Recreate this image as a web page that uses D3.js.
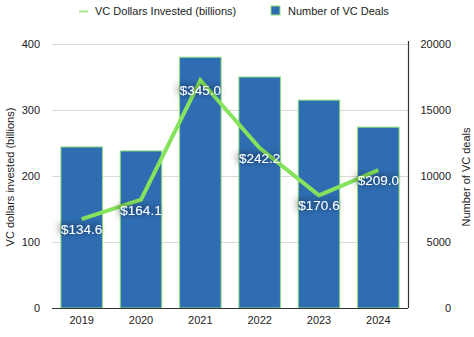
<!DOCTYPE html>
<html>
<head>
<meta charset="utf-8">
<script src="https://cdn.jsdelivr.net/npm/d3@7"></script>
<style>
  html, body { margin: 0; padding: 0; background: #fff; }
  svg { display: block; font-family: "Liberation Sans", Arial, Helvetica, sans-serif; }
</style>
</head>
<body>
<svg id="chart" width="474" height="337"></svg>
<script>
// Yearly US venture capital activity
const years = ["2019", "2020", "2021", "2022", "2023", "2024"];
const dealCounts = [12200, 11900, 19000, 17500, 15750, 13700];
const dollarsInvested = [134.6, 164.1, 345.0, 242.2, 170.6, 209.0];
const leftTicks = [0, 100, 200, 300, 400];
const rightTicks = [0, 5000, 10000, 15000, 20000];

const svg = d3.select("#chart");
const plot = { left: 52, right: 408, top: 44, bottom: 308 };

const x = d3.scaleBand().domain(years).range([plot.left, plot.right]).paddingInner(0.3).paddingOuter(0.15);
const yLeft = d3.scaleLinear().domain([0, 400]).range([plot.bottom, plot.top]);
const yRight = d3.scaleLinear().domain([0, 20000]).range([plot.bottom, plot.top]);

// Soft dark halo behind the value labels
const defs = svg.append("defs");
const f = defs.append("filter").attr("id", "halo").attr("x", "-50%").attr("y", "-80%").attr("width", "200%").attr("height", "260%");
f.append("feDropShadow").attr("dx", -2).attr("dy", -1).attr("stdDeviation", 3.5)
  .attr("flood-color", "#000").attr("flood-opacity", 0.9);

// Gridlines
svg.append("g").selectAll("line").data(leftTicks.filter(d => d > 0)).join("line")
  .attr("x1", plot.left).attr("x2", plot.right)
  .attr("y1", d => yLeft(d) + 0.5).attr("y2", d => yLeft(d) + 0.5)
  .attr("stroke", "#d9d9d9").attr("stroke-width", 1);

// Bars: number of deals (right axis)
svg.append("g").selectAll("rect").data(years).join("rect")
  .attr("x", d => x(d)).attr("width", x.bandwidth())
  .attr("y", (d, i) => yRight(dealCounts[i]))
  .attr("height", (d, i) => yRight(0) - yRight(dealCounts[i]))
  .attr("fill", "#2f6db3").attr("stroke", "#8fe07a").attr("stroke-width", 1);

// Axis lines
svg.append("line").attr("x1", plot.left).attr("x2", plot.right).attr("y1", plot.bottom + 0.5).attr("y2", plot.bottom + 0.5)
  .attr("stroke", "#333").attr("stroke-width", 1.2);
svg.append("line").attr("x1", plot.right + 0.5).attr("x2", plot.right + 0.5).attr("y1", plot.top - 3).attr("y2", plot.bottom)
  .attr("stroke", "#333").attr("stroke-width", 1.2);

// Left axis labels
const axL = svg.append("g").attr("transform", `translate(${plot.left},0)`)
  .call(d3.axisLeft(yLeft).tickValues(leftTicks).tickSize(0).tickPadding(12));
axL.select(".domain").remove();
axL.selectAll("text").attr("font-size", 11).attr("fill", "#222").style("font-family", "inherit");

// Right axis labels
const axR = svg.append("g").attr("transform", `translate(${plot.right + 43},0)`)
  .call(d3.axisLeft(yRight).tickValues(rightTicks).tickSize(0).tickPadding(0).tickFormat(d3.format("d")));
axR.select(".domain").remove();
axR.selectAll("text").attr("font-size", 11).attr("fill", "#222").style("font-family", "inherit");

// Bottom axis labels
const axB = svg.append("g").attr("transform", `translate(0,${plot.bottom})`)
  .call(d3.axisBottom(x).tickSize(0).tickPadding(8));
axB.select(".domain").remove();
axB.selectAll("text").attr("font-size", 11).attr("fill", "#222").style("font-family", "inherit");

// Axis titles
svg.append("text").attr("transform", `translate(14,${(plot.top + plot.bottom) / 2 + 1}) rotate(-90)`)
  .attr("text-anchor", "middle").attr("font-size", 11).attr("fill", "#222")
  .text("VC dollars invested (billions)");
svg.append("text").attr("transform", `translate(470,${(plot.top + plot.bottom) / 2 + 1}) rotate(-90)`)
  .attr("text-anchor", "middle").attr("font-size", 11).attr("fill", "#222")
  .text("Number of VC deals");

// Line: dollars invested (left axis)
const line = d3.line().x((d, i) => x(years[i]) + x.bandwidth() / 2).y(d => yLeft(d));
svg.append("path").datum(dollarsInvested).attr("d", line)
  .attr("fill", "none").attr("stroke", "#86e35c").attr("stroke-width", 4)
  .attr("stroke-linejoin", "miter").attr("stroke-linecap", "butt");

// Value labels
svg.append("g").selectAll("text").data(dollarsInvested).join("text")
  .attr("x", (d, i) => x(years[i]) + x.bandwidth() / 2)
  .attr("y", d => yLeft(d) + 15)
  .attr("text-anchor", "middle").attr("font-size", 13.5).attr("fill", "#fff")
  .attr("filter", "url(#halo)")
  .text(d => "$" + d3.format(".1f")(d));

// Legend
const lg = svg.append("g").attr("font-size", 11).attr("fill", "#222");
lg.append("line").attr("x1", 79).attr("x2", 88).attr("y1", 11.5).attr("y2", 11.5)
  .attr("stroke", "#a8e890").attr("stroke-width", 2);
lg.append("text").attr("x", 95).attr("y", 15).text("VC Dollars Invested (billions)");
lg.append("rect").attr("x", 271).attr("y", 6).attr("width", 9).attr("height", 9)
  .attr("fill", "#2f6db3").attr("stroke", "#8fe07a").attr("stroke-width", 1);
lg.append("text").attr("x", 288).attr("y", 15).text("Number of VC Deals");
</script>
</body>
</html>
